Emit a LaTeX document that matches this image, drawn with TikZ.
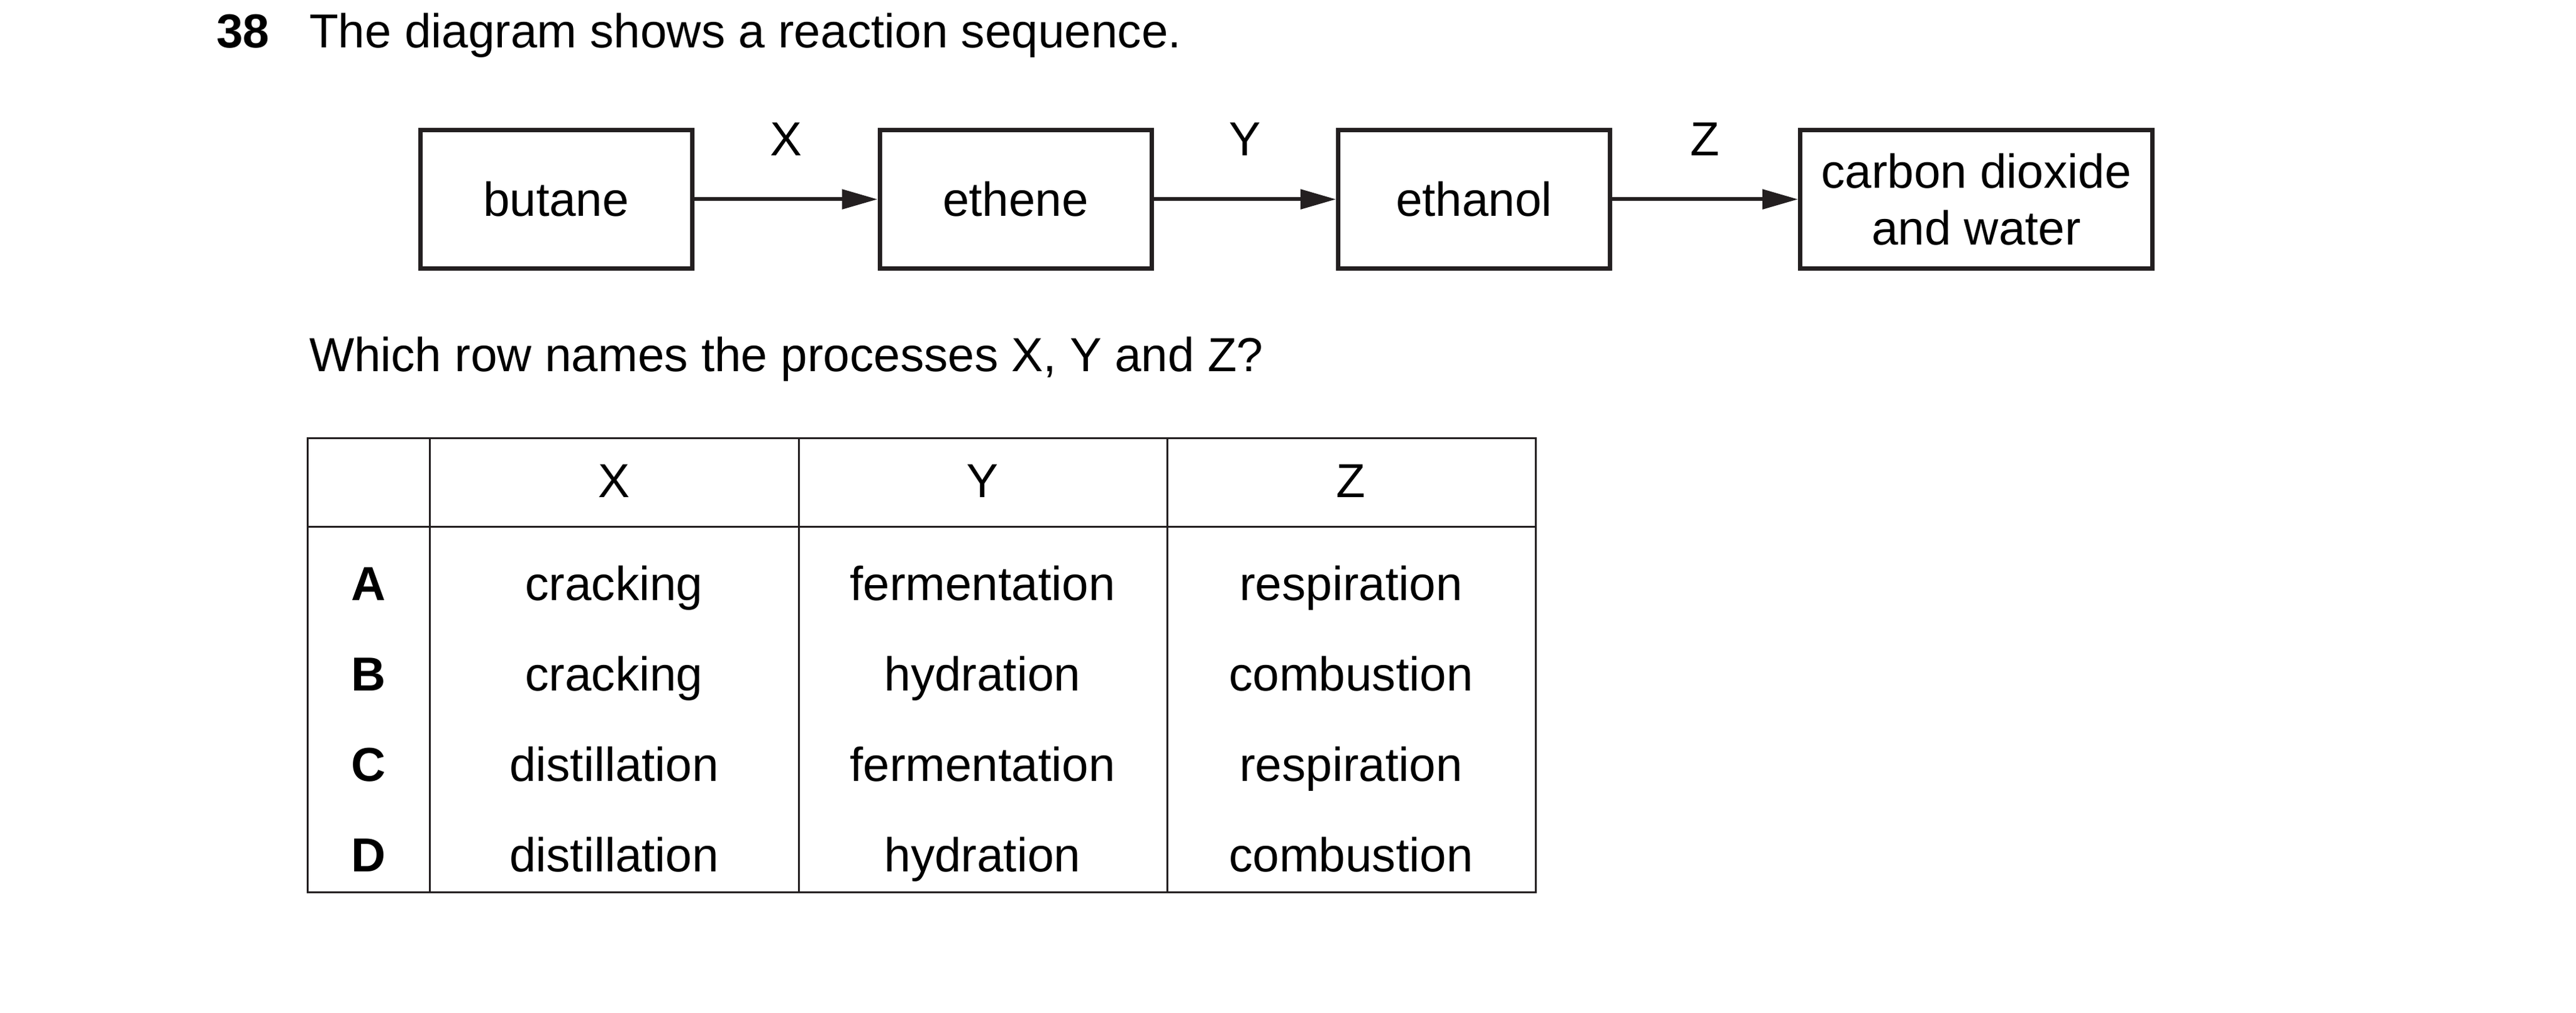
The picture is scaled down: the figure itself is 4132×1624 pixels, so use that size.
\documentclass[tikz,border=0pt]{standalone}
\usepackage{fontspec}
\setmainfont{Liberation Sans}
\usetikzlibrary{arrows.meta}
\definecolor{ink}{HTML}{231F20}
\begin{document}
\begin{tikzpicture}[x=0.2pt,y=-0.2pt,
  txt/.style={font=\fontsize{15.3pt}{18.26pt}\selectfont, inner sep=0pt, outer sep=0pt, text=black},
  bold/.style={font=\fontsize{15.3pt}{18.26pt}\selectfont\bfseries},
  box/.style={txt, draw=ink, line width=1.4pt, outer sep=0.7pt, minimum width=87.2pt, minimum height=44.4pt, align=center},
  onebox/.style={box, text height=11pt, text depth=0pt},
  arr/.style={draw=ink, line width=1.2pt, -{Triangle[length=11.4pt,width=6.2pt]}},
  lbl/.style={txt, anchor=base},
  cell/.style={txt, anchor=base},
  grid/.style={draw=ink, line width=0.6pt}]
\useasboundingbox (0,0) rectangle (4132,1624);
\fill[white] (0,0) rectangle (4132,1624);
% heading
\node[txt, bold, anchor=base west] (num) at (347,77) {38};
\node[txt, anchor=base west] (title) at (496,77) {The diagram shows a reaction sequence.};
% flow boxes
\node[onebox] (b1) at (892,319.5) {butane};
\node[onebox] (b2) at (1629,319.5) {ethene};
\node[onebox] (b3) at (2364.5,319.5) {ethanol};
\node[box, minimum width=113pt] (b4) at (3170,319.5) {carbon dioxide\\and water};
\draw[arr] (b1.east) -- node[lbl, yshift=14pt] (lx) {X} (b2.west);
\draw[arr] (b2.east) -- node[lbl, yshift=14pt] (ly) {Y} (b3.west);
\draw[arr] (b3.east) -- node[lbl, yshift=14pt] (lz) {Z} (b4.west);
% question
\node[txt, anchor=base west] (q) at (496,596) {Which row names the processes X, Y and Z?};
% table
\draw[grid] (493,703) rectangle (2463,1430);
\draw[grid] (493,844) -- (2463,844);
\foreach \xx in {689,1281,1872} \draw[grid] (\xx,703) -- (\xx,1430);
\node[cell] (hX) at (985,798) {X};
\node[cell] (hY) at (1576,798) {Y};
\node[cell] (hZ) at (2167,798) {Z};
\node[cell, bold] (rA) at (591,962) {A};
\node[cell] (aX) at (985,962) {cracking};
\node[cell] (aY) at (1576,962) {fermentation};
\node[cell] (aZ) at (2167,962) {respiration};
\node[cell, bold] (rB) at (591,1107) {B};
\node[cell] (bX) at (985,1107) {cracking};
\node[cell] (bY) at (1576,1107) {hydration};
\node[cell] (bZ) at (2167,1107) {combustion};
\node[cell, bold] (rC) at (591,1252) {C};
\node[cell] (cX) at (985,1252) {distillation};
\node[cell] (cY) at (1576,1252) {fermentation};
\node[cell] (cZ) at (2167,1252) {respiration};
\node[cell, bold] (rD) at (591,1397) {D};
\node[cell] (dX) at (985,1397) {distillation};
\node[cell] (dY) at (1576,1397) {hydration};
\node[cell] (dZ) at (2167,1397) {combustion};
\end{tikzpicture}
\end{document}
